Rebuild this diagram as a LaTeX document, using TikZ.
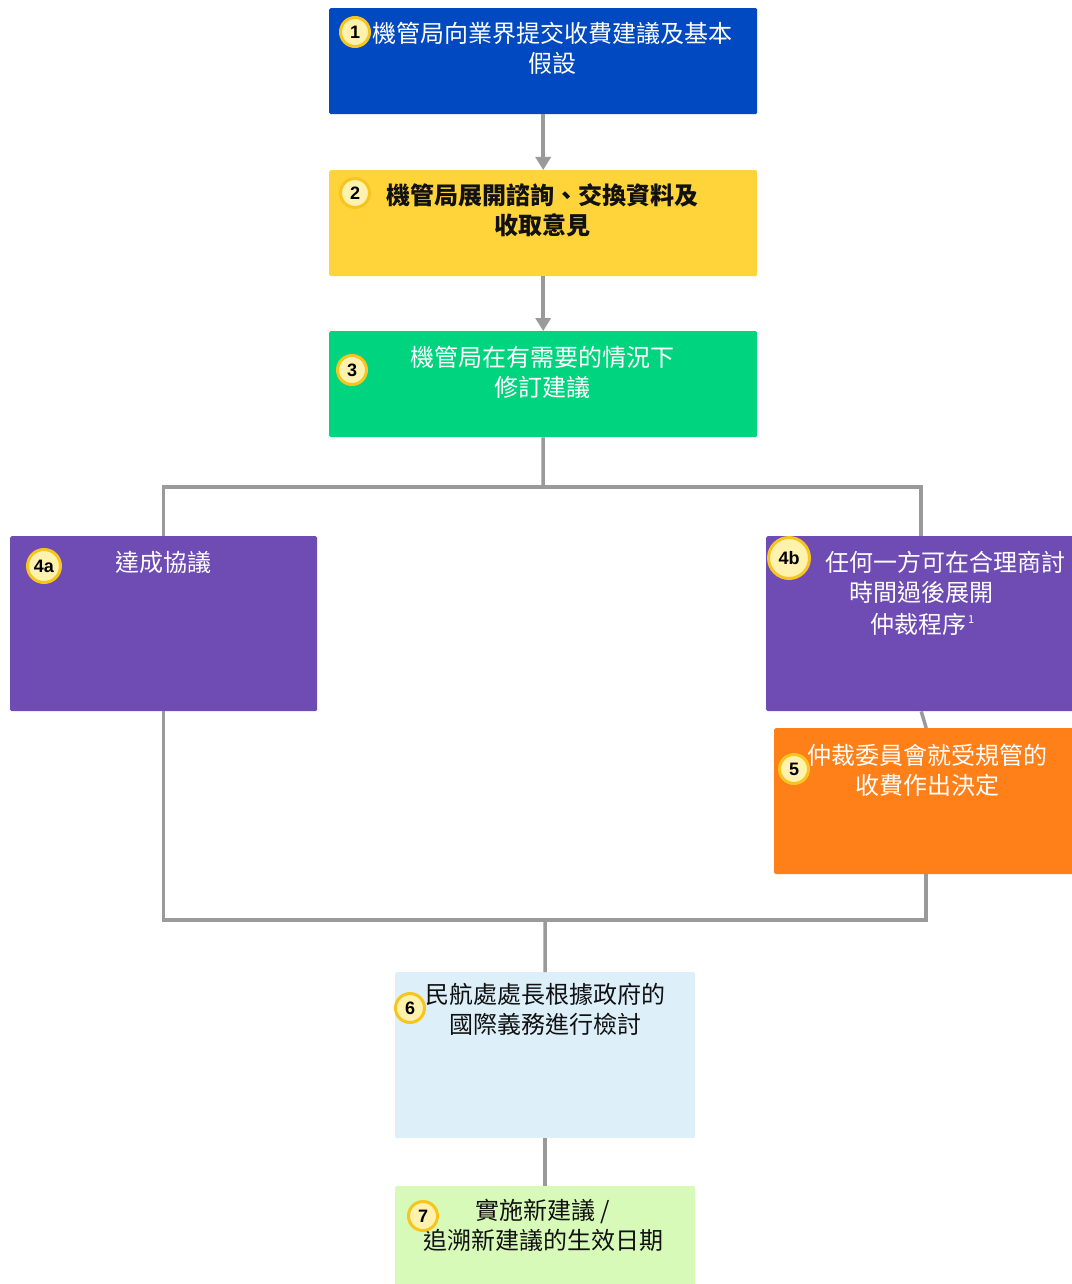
\documentclass[tikz,border=0pt]{standalone}
\usepackage{fontspec}
\setmainfont{Noto Sans CJK TC}
\newfontfamily\badgefont{Liberation Sans}
\usetikzlibrary{arrows.meta}
\definecolor{cblue}{HTML}{0049C0}
\definecolor{cyellow}{HTML}{FFD43B}
\definecolor{cgreen}{HTML}{00D47E}
\definecolor{cpurple}{HTML}{6F4BB4}
\definecolor{corange}{HTML}{FF7F18}
\definecolor{clblue}{HTML}{DDF0FA}
\definecolor{clgreen}{HTML}{D8FAB8}
\definecolor{linegray}{HTML}{9A9A9A}
\definecolor{badgefill}{HTML}{FFF2AE}
\definecolor{badgeline}{HTML}{F7C51E}
\definecolor{darktext}{HTML}{111111}
\begin{document}
\begin{tikzpicture}[x=1pt,y=-1pt,
 box/.style={anchor=north west,inner sep=0,rounded corners=1.5pt,draw=none},
 conn/.style={draw=linegray,line width=3.5pt,line join=miter},
 arr/.style={conn,-{Triangle[width=15pt,length=13pt]}},
 badge/.style={circle,fill=badgefill,draw=badgeline,line width=3pt,minimum size=29pt,inner sep=0,text=black,font=\badgefont\bfseries\fontsize{18}{18}\selectfont},
 txt/.style={align=center,font=\fontsize{24}{30}\selectfont,inner sep=0}]
\useasboundingbox (0,0) rectangle (1071,1284);
% boxes
\node[box,fill=cblue,minimum width=428pt,minimum height=106pt] (b1) at (329,8) {};
\node[box,fill=cyellow,minimum width=428pt,minimum height=106pt] (b2) at (329,170) {};
\node[box,fill=cgreen,minimum width=428pt,minimum height=106pt] (b3) at (329,331) {};
\node[box,fill=cpurple,minimum width=307pt,minimum height=175pt] (b4a) at (10,536) {};
\node[box,fill=cpurple,minimum width=310pt,minimum height=175pt] (b4b) at (766,536) {};
\node[box,fill=corange,minimum width=304pt,minimum height=146pt] (b5) at (774,728) {};
\node[box,fill=clblue,minimum width=300pt,minimum height=166pt] (b6) at (395,972) {};
\node[box,fill=clgreen,minimum width=300pt,minimum height=100pt] (b7) at (395,1186) {};
% connectors
\draw[arr] (b1.south) -- (b2.north);
\draw[arr] (b2.south) -- (b3.north);
\coordinate (j1) at (543,487);
\draw[conn] (b3.south) -- (j1);
\draw[conn] (b4a.north) |- (j1) -| (b4b.north);
\draw[conn] (b4b.south) -- (b5.north);
\coordinate (j2) at (545,920);
\draw[conn] (b4a.south) -- (b4a.south |- j2) -- (b5.south |- j2) -- (b5.south);
\draw[conn] (j2) -- (b6.north);
\draw[conn] (b6.south) -- (b7.north);
% texts
\node[txt,text=white] (t1) at (552,48) {機管局向業界提交收費建議及基本\\假設};
\node[txt,text=darktext,font=\bfseries\fontsize{24}{30}\selectfont] (t2) at (542,210) {機管局展開諮詢、交換資料及\\收取意見};
\node[txt,text=white] (t3) at (542,372) {機管局在有需要的情況下\\修訂建議};
\node[txt,text=white] (t4a) at (163,562) {達成協議};
\node[txt,text=white] (t4b1) at (945,562) {任何一方可在合理商討};
\node[txt,text=white] (t4b2) at (921,592) {時間過後展開};
\node[txt,text=white,anchor=west] (t4b3) at (870,624) {仲裁程序\hspace{2pt}\raisebox{10pt}{\fontsize{11}{11}\selectfont 1}};
\node[txt,text=white] (t5) at (927,770) {仲裁委員會就受規管的\\收費作出決定};
\node[txt,text=darktext] (t6) at (545,1009) {民航處處長根據政府的\\國際義務進行檢討};
\node[txt,text=darktext] (t7) at (543,1225) {實施新建議 /\\追溯新建議的生效日期};
% badges
\node[badge] (n1) at (355,32) {1};
\node[badge] (n2) at (355,193) {2};
\node[badge] (n3) at (352,370) {3};
\node[badge,minimum size=33pt] (n4a) at (44,566) {4a};
\node[badge,minimum size=41pt] (n4b) at (789,558) {4b};
\node[badge] (n5) at (794,769) {5};
\node[badge] (n6) at (410,1008) {6};
\node[badge] (n7) at (423,1216) {7};
\end{tikzpicture}
\end{document}
